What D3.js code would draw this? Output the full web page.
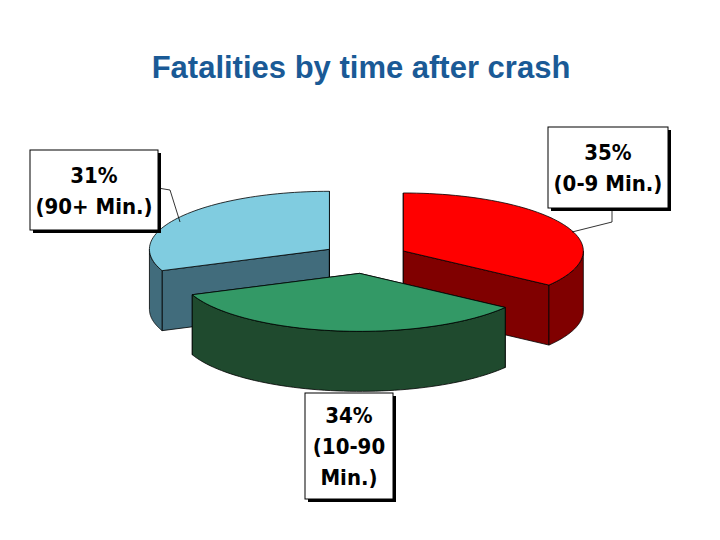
<!DOCTYPE html>
<html><head><meta charset="utf-8">
<script src="https://cdn.jsdelivr.net/npm/d3@7"></script>
<style>body{margin:0;background:#fff}</style>
</head><body><div id="container"></div>
<script>
/* DATA */
const categories = ["0-9 Min.", "10-90 Min.", "90+ Min."];
const values = [35, 34, 31];
const labels = [["35%", "(0-9 Min.)"], ["34%", "(10-90", "Min.)"], ["31%", "(90+ Min.)"]];
const topColors = ["#ff0000", "#339966", "#80cce0"];
const sideColors = ["#800000", "#1f4a2e", "#416c7c"];

const width = 720, height = 540;
const cx = 365, cy = 258, rx = 180, ry = 58, depth = 60, explode = 43, k = 0.36;

const svg = d3.select("#container").append("svg")
  .attr("width", width).attr("height", height);

svg.append("text").attr("x", 361).attr("y", 78).attr("text-anchor", "middle")
  .attr("font-family", "Liberation Sans, Arial, sans-serif").attr("font-weight", "bold")
  .attr("font-size", 31).attr("fill", "#1a5a96").text("Fatalities by time after crash");

const arcs = d3.pie().sort(null)(values);

const pt = (c, a, dy = 0) => [c[0] + rx * Math.sin(a), c[1] - ry * Math.cos(a) + dy];
const line = d3.line();

function ellipseArc(c, a0, a1, dy) {
  const n = 60, pts = [];
  for (let i = 0; i <= n; i++) pts.push(pt(c, a0 + (a1 - a0) * i / n, dy));
  return pts;
}

// draw back slices first (red, blue), then green front
const order = [0, 2, 1];
order.forEach(i => {
  const d = arcs[i];
  const mid = (d.startAngle + d.endAngle) / 2;
  const c = [cx + explode * Math.sin(mid), cy - explode * k * Math.cos(mid)];
  const g = svg.append("g").attr("stroke", "#000").attr("stroke-width", 0.8);
  // radial walls
  [d.startAngle, d.endAngle].forEach(a => {
    const p = pt(c, a);
    g.append("path").attr("fill", sideColors[i])
      .attr("d", line([c, p, [p[0], p[1] + depth], [c[0], c[1] + depth]]) + "Z");
  });
  // outer wall (front half only)
  const a0 = Math.max(d.startAngle, Math.PI / 2), a1 = Math.min(d.endAngle, 3 * Math.PI / 2);
  if (a1 > a0) {
    const topPts = ellipseArc(c, a0, a1, 0);
    const botPts = ellipseArc(c, a1, a0, depth);
    g.append("path").attr("fill", sideColors[i]).attr("d", line(topPts.concat(botPts)) + "Z");
  }
  // top face
  g.append("path").attr("fill", topColors[i])
    .attr("d", line([c].concat(ellipseArc(c, d.startAngle, d.endAngle, 0))) + "Z");
});

// leader lines
const leaders = [[[612, 208], [612, 222], [572, 232]], [[158, 188], [170, 190], [180, 222]]];
leaders.forEach(l => svg.append("path").attr("d", line(l)).attr("fill", "none")
  .attr("stroke", "#000").attr("stroke-width", 0.8));

// label boxes
const boxes = [[548, 127, 120, 81], [305, 393, 88, 106], [30, 150, 128, 80]];
boxes.forEach((b, i) => {
  svg.append("rect").attr("x", b[0] + 3).attr("y", b[1] + 3).attr("width", b[2]).attr("height", b[3])
    .attr("fill", "#000");
  svg.append("rect").attr("x", b[0]).attr("y", b[1]).attr("width", b[2]).attr("height", b[3])
    .attr("fill", "#fff").attr("stroke", "#000").attr("stroke-width", 1);
  const t = svg.append("text").attr("text-anchor", "middle")
    .attr("font-family", "DejaVu Sans Condensed, DejaVu Sans, sans-serif").attr("font-weight", "bold")
    .attr("font-stretch", "condensed")
    .attr("font-size", 22).attr("fill", "#000");
  const lh = 31, n = labels[i].length;
  const y0 = b[1] + b[3] / 2 - (n - 1) * lh / 2 + 8;
  labels[i].forEach((s, j) => t.append("tspan").attr("x", b[0] + b[2] / 2).attr("y", y0 + j * lh).text(s));
});
</script></body></html>
